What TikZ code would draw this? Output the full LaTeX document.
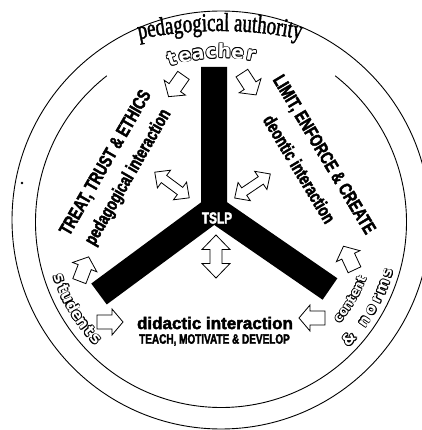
\documentclass[tikz,border=0pt]{standalone}
\usepackage{fontspec}
\setmainfont{Liberation Sans}
\newfontfamily\cnd[FakeStretch=0.74,FakeBold=2.2]{Liberation Sans}
\newfontfamily\wide[FakeBold=2.5]{Liberation Sans}
\newfontfamily\scnd[FakeStretch=0.72,FakeBold=1.5]{Liberation Serif}
\newfontfamily\rnd{DejaVu Sans}
\usetikzlibrary{decorations.text,calc}
\newlength\olw
\setlength\olw{0.8pt}
\newcommand\oltext[1]{%
  \begingroup\color{black}%
  \rlap{\kern\olw#1}\rlap{\kern-\olw#1}%
  \rlap{\raisebox{\olw}{#1}}\rlap{\raisebox{-\olw}{#1}}%
  \rlap{\kern0.7\olw\raisebox{0.7\olw}{#1}}\rlap{\kern-0.7\olw\raisebox{0.7\olw}{#1}}%
  \rlap{\kern0.7\olw\raisebox{-0.7\olw}{#1}}\rlap{\kern-0.7\olw\raisebox{-0.7\olw}{#1}}%
  \endgroup\textcolor{white}{#1}}
\tikzset{
  ring/.style={line width=0.9bp},
  bar/.style={line width=26bp, black},
  arrowline/.style={draw=black, fill=white, line width=0.8bp, line join=miter},
  heavy/.style={inner sep=0pt, font=\cnd\bfseries\fontsize{18.5bp}{18.5bp}\selectfont},
  olchar/.style={inner sep=0pt, anchor=base, font=\rnd\bfseries\fontsize{#1bp}{#1bp}\selectfont},
  pics/sarrow/.style={code={\path[arrowline] (-13,-7)--(2,-7)--(2,-13)--(13,0)--(2,13)--(2,7)--(-13,7)--cycle;}},
  pics/darrow/.style={code={\path[arrowline] (-21.5,0)--(-10,-11)--(-10,-4.5)--(10,-4.5)--(10,-11)--(21.5,0)--(10,11)--(10,4.5)--(-10,4.5)--(-10,11)--cycle;}},
  pics/vdarrow/.style={code={\path[arrowline] (-21.5,0)--(-7,-14)--(-7,-6)--(7,-6)--(7,-14)--(21.5,0)--(7,14)--(7,6)--(-7,6)--(-7,14)--cycle;}},
}
\begin{document}
\begin{tikzpicture}[x=1bp,y=1bp]
\useasboundingbox (0,0) rectangle (422,430);
% circles
\coordinate (O1) at (221,210);
\coordinate (O) at (221,208);
\draw[ring] (O1) circle[radius=209];
\draw[ring] ([shift={(128:185.5)}]O) arc[start angle=128, end angle=412, radius=185.5];
\fill (22,247) circle[radius=1.3];
% Y shape
\coordinate (C) at (214,221);
\coordinate (Vt) at (214,363);
\coordinate (La) at (99,136);
\coordinate (Ra) at (330,141);
\draw[bar, line join=miter] (Vt)--(C)--(La);
\draw[bar] (C)--(Ra);
\node[text=white, inner sep=0pt, font=\cnd\bfseries\fontsize{16bp}{16bp}\selectfont] (tslp) at (217,212) {TSLP};
% arrows
\pic[rotate=235] at (176,344) {sarrow};
\pic[rotate=-57] at (249,346) {sarrow};
\pic[rotate=-36.6] at (172,245) {darrow};
\pic[rotate=34] at (252.5,244) {darrow};
\pic[rotate=90] at (216,173.5) {vdarrow};
\pic[rotate=69] at (84,161) {sarrow};
\pic[rotate=115] at (349,172) {sarrow};
\pic at (110,108) {sarrow};
\pic[rotate=180] at (312,112) {sarrow};
% bold texts
\node[heavy, rotate=60] (treat) at (106,267) {TREAT, TRUST \& ETHICS};
\node[heavy, rotate=60] (pedi) at (128.5,252.5) {pedagogical interaction};
\node[heavy, rotate=-59] (limit) at (323.5,275) {LIMIT, ENFORCE \& CREATE};
\node[heavy, rotate=-59] (deon) at (299.5,261) {deontic interaction};
\node[inner sep=0pt, font=\wide\bfseries\fontsize{17bp}{17bp}\selectfont] (did) at (215,107) {didactic interaction};
\node[inner sep=0pt, font=\cnd\bfseries\fontsize{13.5bp}{13.5bp}\selectfont] (teach) at (214.5,90) {TEACH, MOTIVATE \& DEVELOP};
% pedagogical authority
\path[decorate, decoration={text along path, text align=center,
  text={|\scnd\fontsize{26bp}{26bp}\selectfont|pedagogical authority}}]
  ([shift={(107:400)}]220,-1) arc[start angle=107, end angle=73, radius=400];
% outlined letters
\foreach \ch/\a [count=\i] in {t/106.8,e/102.3,a/97.8,c/93.3,h/88.8,e/84.3,r/79.8}
  \node[olchar=19, rotate=\a-90] (tch\i) at ([shift={(\a:164)}]O) {\oltext{\ch}};
\foreach \ch/\a [count=\i] in {s/199.3,t/202.9,u/206.2,d/209.6,e/213.0,n/216.3,t/219.7,s/223.1}
  \node[olchar=15.5, rotate=\a+90] (stu\i) at ([shift={(\a:176)}]O) {\oltext{\ch}};
\foreach \ch/\a [count=\i] in {c/320.8,o/323.7,n/326.6,t/329.4,e/332.2,n/335.0,t/337.8}
  \node[olchar=13, rotate=\a+90] (con\i) at ([shift={(\a:156)}]O) {\oltext{\ch}};
\foreach \ch/\a [count=\i] in {\&/317.6,n/325.3,o/329.7,r/333.8,m/338.2,s/342.9}
  \node[olchar=15, rotate=\a+90] (nor\i) at ([shift={(\a:179)}]O) {\oltext{\ch}};
\end{tikzpicture}
\end{document}
